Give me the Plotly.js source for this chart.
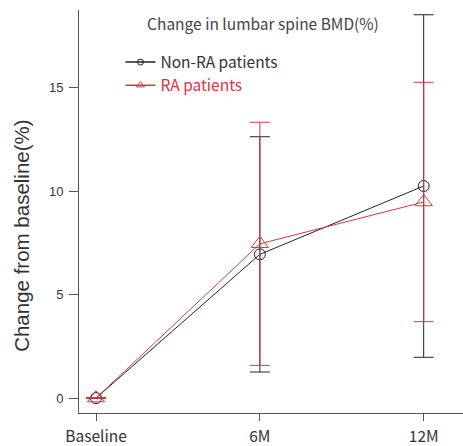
<!DOCTYPE html>
<html><head><meta charset="utf-8">
<script src="https://cdn.plot.ly/plotly-3.0.1.min.js"></script>
<style>html,body{margin:0;padding:0;background:#fff}</style>
</head><body>
<div id="chart" style="width:463px;height:446px"></div>
<script>
const timepoints = ["Baseline", "6M", "12M"];
const nonRaMean = [0, 6.94, 10.24];
const nonRaErr = [0, 5.68, 8.27];
const raMean = [0, 7.45, 9.47];
const raErr = [0, 5.87, 5.78];
const yTicks = [0, 5, 10, 15];

const black = "#222222";
const red = "#d9363e";

const traces = [
  {x: timepoints, y: nonRaMean, type: "scatter", mode: "lines+markers", showlegend: false,
   line: {color: black, width: 1},
   marker: {symbol: "circle-open", size: 11, color: black, line: {width: 1, color: black}},
   error_y: {type: "data", array: nonRaErr, visible: true, color: black, thickness: 1, width: 10}},
  {x: timepoints, y: raMean, type: "scatter", mode: "lines+markers", showlegend: false,
   line: {color: red, width: 1},
   marker: {symbol: "triangle-up-open", size: 15, color: red, line: {width: 1, color: red}},
   error_y: {type: "data", array: raErr, visible: true, color: red, thickness: 1, width: 10}},
  {x: [null], y: [null], type: "scatter", mode: "lines+markers", name: "Non-RA patients",
   line: {color: black, width: 1.5},
   marker: {symbol: "circle-open", size: 6, color: black, line: {width: 1, color: black}}},
  {x: [null], y: [null], type: "scatter", mode: "lines+markers",
   name: '<span style="color:' + red + '">RA patients</span>',
   line: {color: red, width: 1.5},
   marker: {symbol: "triangle-up-open", size: 7, color: red, line: {width: 1, color: red}}}
];

const layout = {
  width: 463, height: 446,
  margin: {l: 79, r: 0, t: 10, b: 33},
  paper_bgcolor: "#fff", plot_bgcolor: "#fff",
  showlegend: true,
  title: {text: "Change in lumbar spine BMD(%)", x: 0.568, xanchor: "center", y: 0.945, yanchor: "middle",
          font: {family: "Noto Sans CJK JP", size: 15.5, color: "#444"}},
  legend: {x: 0.108, y: 0.912, xanchor: "left", yanchor: "top", bgcolor: "rgba(0,0,0,0)",
           font: {family: "Noto Sans CJK JP", size: 15.5, color: "#333"}, tracegroupgap: 0, itemwidth: 30},
  xaxis: {type: "category", range: [-0.104, 2.24], showline: true, linecolor: "#555", linewidth: 1,
          showgrid: false, zeroline: false, ticks: "outside", ticklen: 7, tickcolor: "#555",
          ticklabelstandoff: 2,
          tickfont: {family: "Noto Sans CJK JP", size: 15.5, color: "#333"}, fixedrange: true},
  yaxis: {range: [-0.72, 18.74], tickvals: yTicks, showline: true, linecolor: "#555", linewidth: 1,
          showgrid: false, zeroline: false, ticks: "outside", ticklen: 9, tickcolor: "#555",
          ticklabelstandoff: 3,
          tickfont: {family: "Liberation Sans", size: 13, color: "#333"}},
  annotations: [{text: "Change from baseline(%)", xref: "paper", yref: "paper", x: -0.148, y: 0.44,
                 xanchor: "center", yanchor: "middle", textangle: -90, showarrow: false,
                 font: {family: "Liberation Sans", size: 20.5, color: "#333"}}]
};

Plotly.newPlot("chart", traces, layout, {displayModeBar: false, staticPlot: true});
</script>
</body></html>
